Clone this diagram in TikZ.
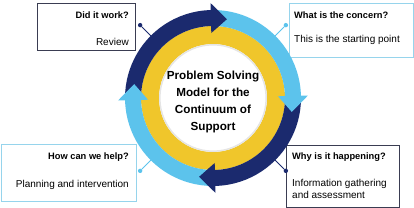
\documentclass[tikz,border=0pt]{standalone}
\usepackage{fontspec}
\setmainfont{Liberation Sans}
\usetikzlibrary{calc}
\definecolor{navy}{HTML}{1B2A6E}
\definecolor{sky}{HTML}{5CC3EC}
\definecolor{gold}{HTML}{F0C62B}
\definecolor{boxgray}{HTML}{3A3D52}
\definecolor{boxsky}{HTML}{96D4EC}

\begin{document}
\begin{tikzpicture}[x=1pt, y=1pt,
  card/.style={rectangle, draw, line width=0.7pt, fill=white, inner sep=0pt},
  head/.style={font=\fontsize{9.3}{11}\selectfont\bfseries, inner sep=0pt},
  body/.style={font=\fontsize{10}{12}\selectfont, inner sep=0pt, align=left},
  pin/.style={circle, fill, minimum size=4.4pt, inner sep=0pt},
  link/.style={line width=0.8pt}
]
  \useasboundingbox (0,0) rectangle (414,208);
  \coordinate (c) at (213,110);

  % Karten
  \node[card, draw=boxgray, minimum width=98pt, minimum height=47pt] (work) at (86,181.5) {};
  \node[card, draw=boxsky, minimum width=124pt, minimum height=54pt] (concern) at (351,178) {};
  \node[card, draw=boxsky, minimum width=135pt, minimum height=57pt] (help) at (68.5,35.5) {};
  \node[card, draw=boxgray, minimum width=113pt, minimum height=62pt] (why) at (342.5,32) {};

  \node[head, anchor=east] (workq) at (129,193) {Did it work?};
  \node[body, anchor=east] (workt) at (129,166) {Review};
  \node[head, anchor=west] (concernq) at (294,193) {What is the concern?};
  \node[body, anchor=west] (concernt) at (294,168) {This is the starting point};
  \node[head, anchor=east] (helpq) at (129,51) {How can we help?};
  \node[body, anchor=east] (helpt) at (129,23) {Planning and intervention};
  \node[head, anchor=west] (whyq) at (292,51) {Why is it happening?};
  \node[body, anchor=west] (whyt) at (292,19) {Information gathering\\and assessment};

  % Verbinder
  \foreach \n/\a/\col in {work/135/navy, concern/45/sky, help/225/sky, why/-45/navy} {
    \node[pin, \col] (\n dot) at ($(c)+(\a:103)$) {};
    \coordinate (\n end) at ($(c)+(\a:86)$);
    \draw[link, \col] (\n dot) -- (\n end);
  }

  % Ring
  \fill[gold, even odd rule] (c) circle[radius=72] (c) circle[radius=54];
  \draw[black!10, line width=1.5pt] (c) circle[radius=53.2];

  % Pfeile
  \foreach \col/\tip in {navy/80, sky/-10, navy/-100, sky/170} {
    \fill[\col] ($(c)+(\tip+100:88)$) arc[start angle=\tip+100, end angle=\tip+9, radius=88]
      -- ($(c)+(\tip+9:72)$) arc[start angle=\tip+9, end angle=\tip+100, radius=72] -- cycle;
  }
  \foreach \col/\tip in {navy/80, sky/-10, navy/-100, sky/170} {
    \fill[\col] ($(c)+(\tip+11.5:65)$) -- ($(c)+(\tip+11.5:95)$) -- ($(c)+(\tip:80)$) -- cycle;
  }

  % Mitte
  \node[font=\fontsize{11.7}{17.3}\selectfont\bfseries, align=center] (title) at (213,106)
    {Problem Solving\\Model for the\\Continuum of\\Support};
\end{tikzpicture}
\end{document}
